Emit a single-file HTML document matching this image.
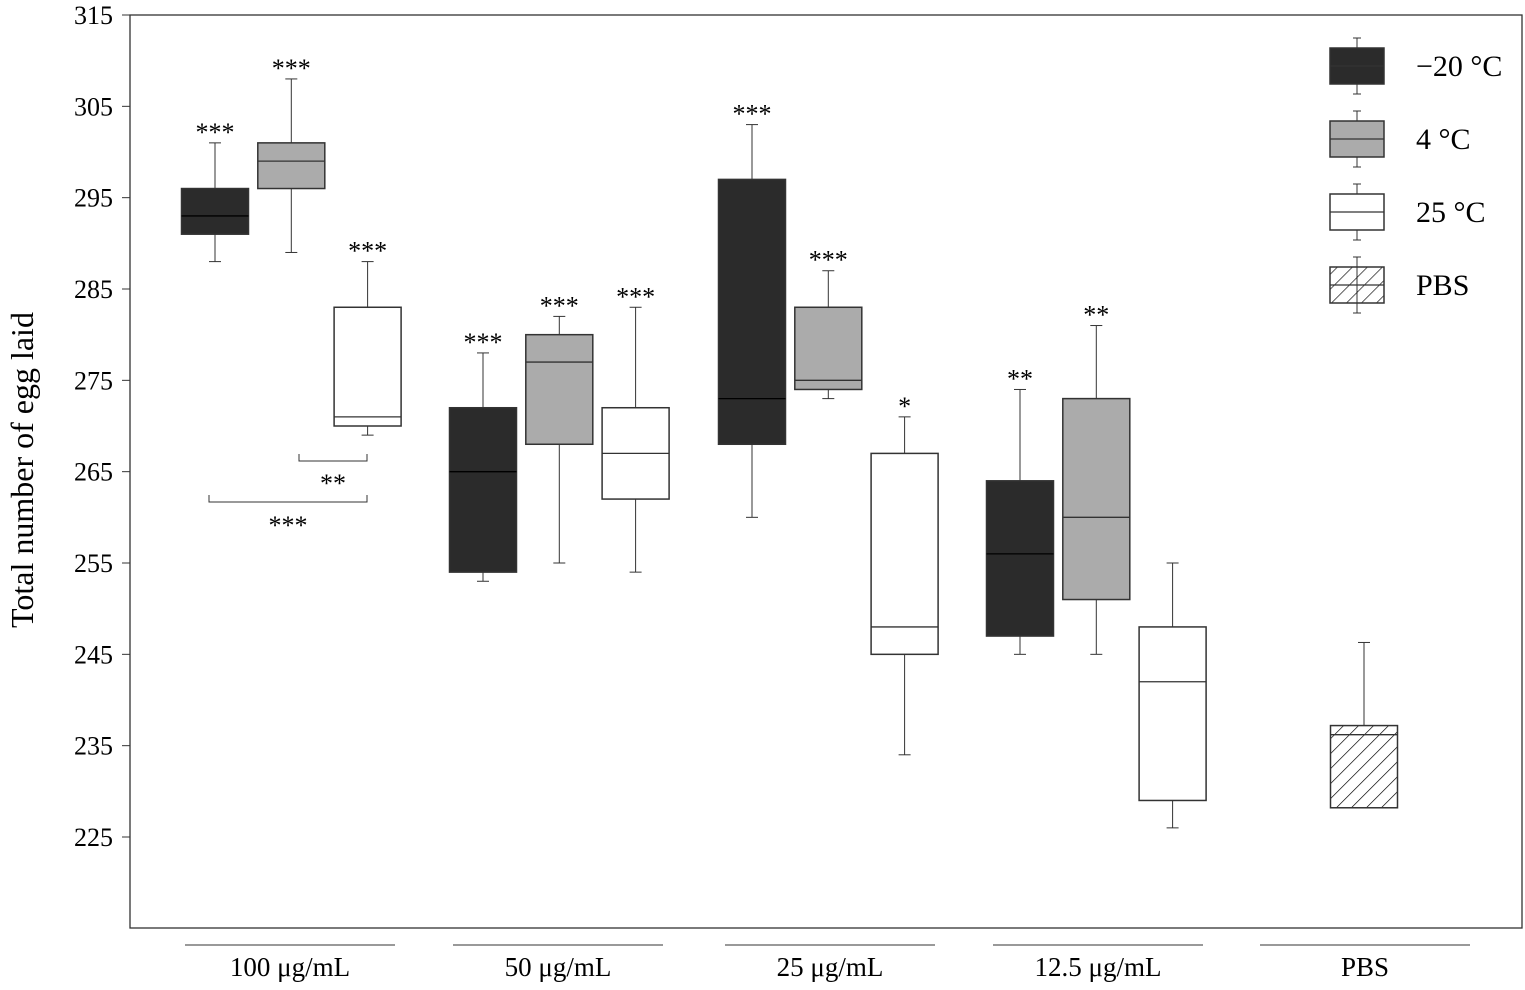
<!DOCTYPE html>
<html><head><meta charset="utf-8"><style>
body{margin:0;background:#fff}
svg text{font-family:"Liberation Serif",serif;fill:#000}
</style></head><body>
<svg id="c" width="1525" height="985">
<defs><pattern id="hatch" patternUnits="userSpaceOnUse" width="10.6" height="10.6" patternTransform="rotate(45)"><line x1="0" y1="0" x2="0" y2="10.6" stroke="#000" stroke-width="1.3"/></pattern></defs>
</svg>
<script>
const groups=["100 μg/mL","50 μg/mL","25 μg/mL","12.5 μg/mL","PBS"];
const yTicks=[225,235,245,255,265,275,285,295,305,315];
const series=["−20 °C","4 °C","25 °C","PBS"];
const boxGroup=[0,0,0,1,1,1,2,2,2,3,3,3,4];
const boxSeries=[0,1,2,0,1,2,0,1,2,0,1,2,3];
const wLow=[288,289,269,253,255,254,260,273,234,245,245,226,228.2];
const q1=[291,296,270,254,268,262,268,274,245,247,251,229,228.2];
const med=[293,299,271,265,277,267,273,275,248,256,260,242,236.2];
const q3=[296,301,283,272,280,272,297,283,267,264,273,248,237.2];
const wHigh=[301,308,288,278,282,283,303,287,271,274,281,255,246.3];
const stars=["***","***","***","***","***","***","***","***","*","**","**","",""];
const fills=["#2b2b2b","#ababab","#fff","url(#hatch)"];
const svg=document.getElementById('c');
const NS="http://www.w3.org/2000/svg";
function y(v){return 15+(315-v)*(837-15)/90;}
function bx(i){const g=boxGroup[i];if(g===4)return 1364;return [215,483,752,1020][g]+boxSeries[i]*76.3;}
function el(t,a,p){const e=document.createElementNS(NS,t);for(const k in a)e.setAttribute(k,a[k]);(p||svg).appendChild(e);return e;}
const frame=el('rect',{x:130,y:15,width:1392,height:913,fill:'none',stroke:'#333','stroke-width':1.3});

yTicks.forEach(v=>{
 const t=el('line',{x1:122,x2:130,y1:y(v),y2:y(v),stroke:'#333'});
 
 const l=el('text',{x:113,y:y(v)+9,'text-anchor':'end','font-size':26});l.textContent=v;
 
});
const yt=el('text',{transform:'translate(33,470) rotate(-90)','text-anchor':'middle','font-size':32});
yt.textContent='Total number of egg laid';

groups.forEach((g,i)=>{
 const c=[290,558,830,1098,1365][i];
 const ln=el('line',{x1:c-105,x2:c+105,y1:945,y2:945,stroke:'#333'});
 
 const t=el('text',{x:c,y:976,'text-anchor':'middle','font-size':27});t.textContent=g;
 
});
for(let i=0;i<med.length;i++){
 const cx=bx(i),w=67;
 const gg=el('g',{});
 
 el('line',{x1:cx,x2:cx,y1:y(wHigh[i]),y2:y(q3[i]),stroke:'#333'},gg);
 el('line',{x1:cx,x2:cx,y1:y(q1[i]),y2:y(wLow[i]),stroke:'#333'},gg);
 el('line',{x1:cx-6,x2:cx+6,y1:y(wHigh[i]),y2:y(wHigh[i]),stroke:'#333'},gg);
 if(wLow[i]<q1[i])el('line',{x1:cx-6,x2:cx+6,y1:y(wLow[i]),y2:y(wLow[i]),stroke:'#333'},gg);
 el('rect',{x:cx-w/2,y:y(q3[i]),width:w,height:y(q1[i])-y(q3[i]),fill:fills[boxSeries[i]],stroke:'#333','stroke-width':1.5},gg);
 el('line',{x1:cx-w/2,x2:cx+w/2,y1:y(med[i]),y2:y(med[i]),stroke:boxSeries[i]===0?'#000':'#333','stroke-width':1.3},gg);
 if(stars[i]){const s=el('text',{x:cx,y:y(wHigh[i])-2,'text-anchor':'middle','font-size':26});s.textContent=stars[i];
 }
}
function bracket(x1,x2,yy,txt,ty){
 const p=el('path',{d:`M${x1} ${yy-7}V${yy}H${x2}V${yy-7}`,fill:'none',stroke:'#333'});
 
 const t=el('text',{x:(x1+x2)/2,y:ty,'text-anchor':'middle','font-size':26});t.textContent=txt;
 
}
bracket(299,367,461,'**',492);
bracket(209,367,502,'***',534);
series.forEach((s,i)=>{
 const cy=66+i*73,g=el('g',{});
 
 el('line',{x1:1357,x2:1357,y1:cy-28,y2:cy+28,stroke:'#333'},g);
 el('line',{x1:1353,x2:1361,y1:cy-28,y2:cy-28,stroke:'#333'},g);
 el('line',{x1:1353,x2:1361,y1:cy+28,y2:cy+28,stroke:'#333'},g);
 el('rect',{x:1330,y:cy-18,width:54,height:36,fill:fills[i],stroke:'#333','stroke-width':1.5},g);
 el('line',{x1:1330,x2:1384,y1:cy,y2:cy,stroke:'#333','stroke-width':1.3},g);
 const t=el('text',{x:1416,y:cy+10,'font-size':30},g);t.textContent=s;
});
</script>
</body></html>
